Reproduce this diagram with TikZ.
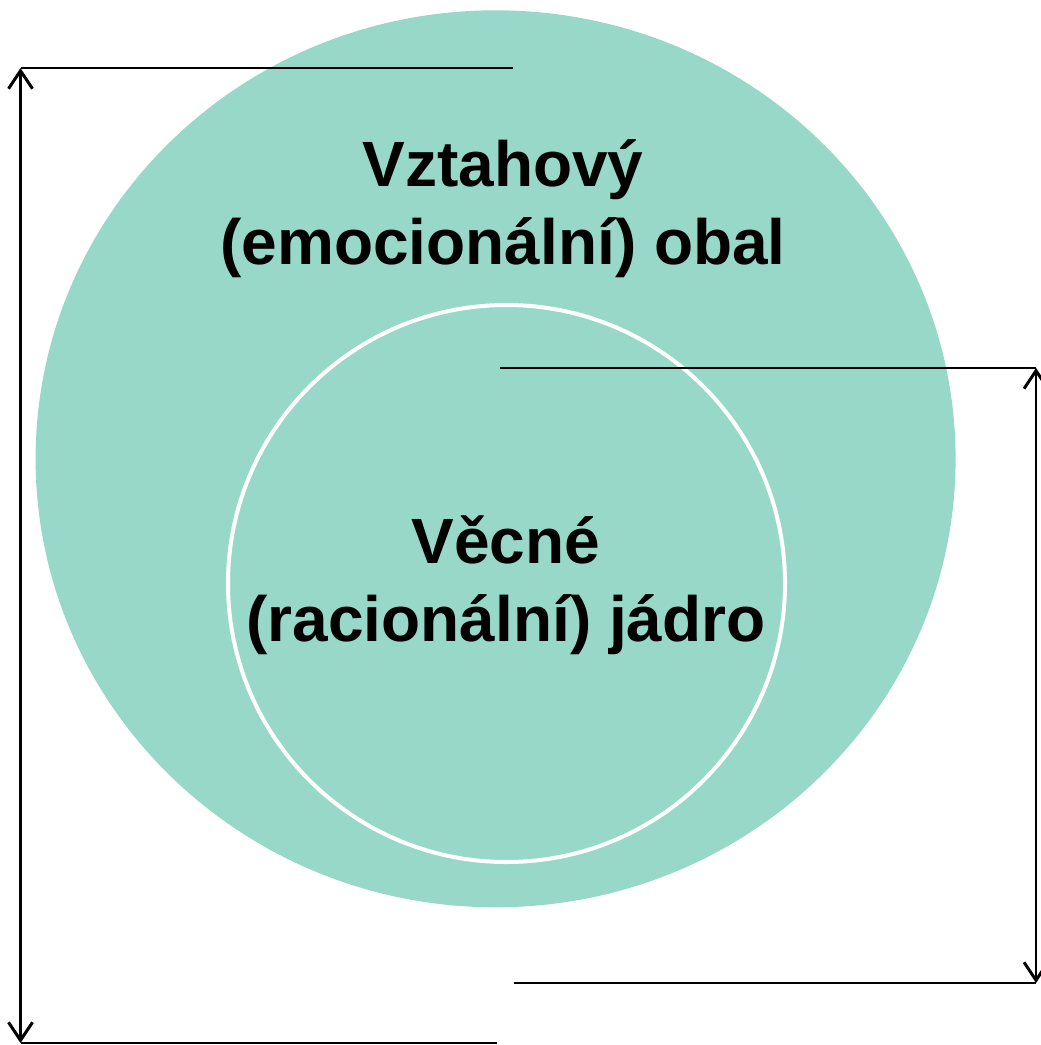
\documentclass[tikz,border=0pt]{standalone}
\usepackage{fontspec}
\setmainfont{Liberation Sans}
\usetikzlibrary{arrows.meta,shapes.geometric}
\definecolor{mint}{RGB}{152,216,200}
\begin{document}
\begin{tikzpicture}[x=1pt,y=-1pt,
  dimline/.style={line width=2.2pt,draw=black},
  dimarrow/.style={dimline,{Straight Barb[length=18pt,width=24pt,line width=3pt]}-{Straight Barb[length=18pt,width=24pt,line width=3pt]}},
  label/.style={font=\bfseries\fontsize{64}{78}\selectfont,align=center,text=black,inner sep=0pt,anchor=base}]
\useasboundingbox (0,0) rectangle (1041,1045);
\node[ellipse,fill=mint,draw=none,minimum width=920pt,minimum height=897pt,inner sep=0pt] (outer) at (495.6,458.8) {};
\node[circle,fill=mint,draw=white,line width=4pt,minimum size=557pt,inner sep=0pt] (inner) at (506.5,583.5) {};
\node[label] (outertext) at (503,264) {Vztahový\\(emocionální) obal};
\node[label] (innertext) at (506,641) {Věcné\\(racionální) jádro};
\coordinate (lt) at (20.5,68);
\coordinate (lte) at (513,68);
\coordinate (lb) at (20.5,1043);
\coordinate (lbe) at (497,1043);
\coordinate (rt) at (1036,368);
\coordinate (rte) at (500,368);
\coordinate (rb) at (1036,983);
\coordinate (rbe) at (514,983);
\draw[dimline] (lte) -- (lt);
\draw[dimline] (lbe) -- (lb);
\draw[dimline] (rte) -- (rt);
\draw[dimline] (rbe) -- (rb);
\draw[dimarrow] (lt) -- (lb);
\draw[dimarrow] (rt) -- (rb);
\end{tikzpicture}
\end{document}
